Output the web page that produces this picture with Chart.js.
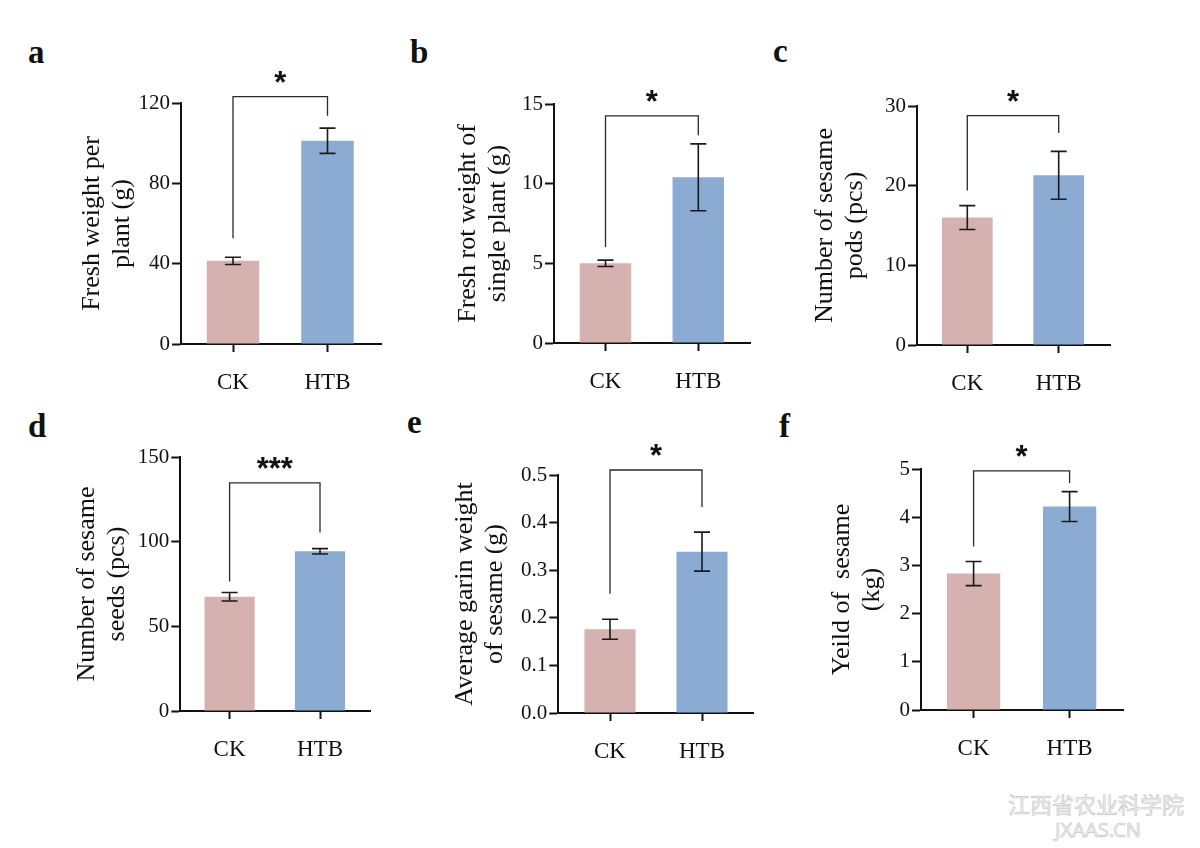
<!DOCTYPE html>
<html>
<head>
<meta charset="utf-8">
<script src="https://cdn.jsdelivr.net/npm/chart.js@4.4.0/dist/chart.umd.min.js"></script>
<style>
body { margin: 0; background: #fff; width: 1200px; height: 848px; position: relative; overflow: hidden; }
canvas { position: absolute; }
.tag { position: absolute; font: bold 33px "Liberation Serif"; line-height: 32px; color: #111; }
.wm { position: absolute; color: #f2f2f2; -webkit-text-stroke: 0.6px #c4c4c4; }
</style>
</head>
<body>
<div class="tag" style="left:28px;top:36px">a</div>
<div class="tag" style="left:410px;top:36px">b</div>
<div class="tag" style="left:773px;top:35px">c</div>
<div class="tag" style="left:28px;top:410px">d</div>
<div class="tag" style="left:407px;top:406px">e</div>
<div class="tag" style="left:779px;top:410px">f</div>
<div class="wm" style="left:1008px;top:792px;font:22px 'Noto Sans CJK SC';line-height:22px">江西省农业科学院</div>
<div class="wm" style="left:1055px;top:820px;font:20px 'Noto Sans';line-height:20px">JXAAS.CN</div>

<script>
// data
const groups = ['CK', 'HTB'];

const freshWeight = [41.4, 101.2];
const freshWeightErr = [1.8, 6.3];
const rotWeight = [5.0, 10.4];
const rotWeightErr = [0.2, 2.1];
const pods = [16.0, 21.3];
const podsErr = [1.5, 3.0];
const seeds = [67.5, 94.3];
const seedsErr = [2.5, 1.6];
const grainWeight = [0.176, 0.339];
const grainWeightErr = [0.021, 0.041];
const yieldKg = [2.83, 4.22];
const yieldKgErr = [0.25, 0.31];

// y tick labels
const ticksA = [0, 40, 80, 120];
const ticksB = [0, 5, 10, 15];
const ticksC = [0, 10, 20, 30];
const ticksD = [0, 50, 100, 150];
const ticksE = [0, 0.1, 0.2, 0.3, 0.4, 0.5];
const ticksF = [0, 1, 2, 3, 4, 5];

// significance brackets: [top, left leg end, right leg end]
const bracketA = [123.2, 52.7, 113.7];
const bracketB = [14.25, 6.02, 13.04];
const bracketC = [28.8, 19.4, 26.6];
const bracketD = [134.7, 76.5, 105.4];
const bracketE = [0.5105, 0.2506, 0.4328];
const bracketF = [4.96, 3.39, 4.71];

const pink = '#d5b1b0';
const blue = '#8babd3';
const serif = 'Liberation Serif';

// error bars
const errPlugin = {
  id: 'errbars',
  afterDatasetsDraw(chart) {
    const ctx = chart.ctx;
    const y = chart.scales.y;
    chart.data.datasets.forEach((ds, di) => {
      chart.getDatasetMeta(di).data.forEach((bar, i) => {
        let hi = y.getPixelForValue(ds.data[i] + ds.errors[i]);
        let lo = y.getPixelForValue(ds.data[i] - ds.errors[i]);
        ctx.save();
        ctx.strokeStyle = '#1a1a1a';
        ctx.lineWidth = 1.6;
        ctx.beginPath();
        ctx.moveTo(bar.x, hi); ctx.lineTo(bar.x, lo);
        ctx.moveTo(bar.x - 8, hi); ctx.lineTo(bar.x + 8, hi);
        ctx.moveTo(bar.x - 8, lo); ctx.lineTo(bar.x + 8, lo);
        ctx.stroke();
        ctx.restore();
      });
    });
  }
};

// bracket + stars
const sigPlugin = {
  id: 'sig',
  afterDraw(chart, args, opts) {
    const ctx = chart.ctx;
    const y = chart.scales.y;
    const bars = chart.getDatasetMeta(0).data;
    let x0 = bars[0].x, x1 = bars[1].x;
    let yt = y.getPixelForValue(opts.levels[0]);
    ctx.save();
    ctx.strokeStyle = '#2a2a2a';
    ctx.lineWidth = 1.3;
    ctx.beginPath();
    ctx.moveTo(x0, y.getPixelForValue(opts.levels[1]));
    ctx.lineTo(x0, yt);
    ctx.lineTo(x1, yt);
    ctx.lineTo(x1, y.getPixelForValue(opts.levels[2]));
    ctx.stroke();
    ctx.fillStyle = '#111';
    ctx.font = 'bold 31px "Liberation Sans"';
    ctx.textAlign = 'center';
    ctx.textBaseline = 'alphabetic';
    ctx.fillText(opts.mark, (x0 + x1) / 2, yt - 4);
    ctx.restore();
  }
};

function makePanel(p, box) {
  const lh = 30;
  let L = box.titleX - lh / 2;
  let T = box.top - 50;
  let W = Math.round(box.right - L + 10);
  let H = Math.round(box.bottom - T + 60);
  let cv = document.createElement('canvas');
  cv.width = W; cv.height = H;
  cv.style.left = L + 'px'; cv.style.top = T + 'px';
  cv.style.width = W + 'px'; cv.style.height = H + 'px';
  document.body.appendChild(cv);

  // where the two bars sit along the x axis (fraction of axis length)
  let len = box.right - box.axisX;
  let d0 = (box.ck - box.axisX) / len, d1 = (box.htb - box.axisX) / len;

  new Chart(cv, {
    type: 'bar',
    data: {
      labels: groups,
      datasets: [{
        data: p.values,
        errors: p.errors,
        backgroundColor: [pink, blue],
        barPercentage: 0.555,
        categoryPercentage: 1
      }]
    },
    options: {
      responsive: false,
      animation: false,
      layout: { padding: { left: 0, top: 50, right: W - (box.right - L), bottom: 0 } },
      plugins: {
        legend: { display: false },
        tooltip: { enabled: false },
        sig: { levels: p.bracket, mark: p.mark }
      },
      scales: {
        x: {
          offset: true,
          afterBuildTicks: s => {
            s._valueRange = 1 / (d1 - d0);
            s._startValue = -d0 * s._valueRange;
          },
          grid: { offset: false, drawOnChartArea: false, tickLength: 8, tickWidth: 2, tickColor: '#111' },
          border: { color: '#111', width: 2 },
          ticks: { color: '#111', font: { family: serif, size: 23 }, padding: 17 },
          afterFit: s => { s.height = 60; }
        },
        y: {
          min: p.ticks[0],
          max: p.ticks[p.ticks.length - 1],
          afterBuildTicks: s => { s.ticks = p.ticks.map(v => ({ value: v })); },
          grid: { drawOnChartArea: false, tickLength: 9, tickWidth: 2, tickColor: '#111' },
          border: { color: '#111', width: 2 },
          ticks: {
            color: '#111',
            font: { family: serif, size: 21 },
            padding: 2,
            callback: v => p.decimals ? v.toFixed(p.decimals) : String(v)
          },
          title: {
            display: true,
            text: p.title,
            color: '#111',
            font: { family: serif, size: 26, lineHeight: 1.15 },
            padding: 0
          },
          afterFit: s => { s.width = box.axisX - L; }
        }
      }
    },
    plugins: [errPlugin, sigPlugin]
  });
}

makePanel({ values: freshWeight, errors: freshWeightErr, ticks: ticksA, bracket: bracketA, mark: '*',
  title: ['Fresh weight per', 'plant (g)'] },
  { axisX: 181, top: 102.7, bottom: 343.3, right: 381, titleX: 92, ck: 233, htb: 327.5 });

makePanel({ values: rotWeight, errors: rotWeightErr, ticks: ticksB, bracket: bracketB, mark: '*',
  title: ['Fresh rot weight of', 'single plant (g)'] },
  { axisX: 554, top: 104, bottom: 343.3, right: 750, titleX: 468, ck: 605.5, htb: 698.3 });

makePanel({ values: pods, errors: podsErr, ticks: ticksC, bracket: bracketC, mark: '*',
  title: ['Number of sesame', 'pods (pcs)'] },
  { axisX: 917, top: 106, bottom: 345.3, right: 1110, titleX: 825, ck: 967.3, htb: 1058.7 });

makePanel({ values: seeds, errors: seedsErr, ticks: ticksD, bracket: bracketD, mark: '***',
  title: ['Number of sesame', 'seeds (pcs)'] },
  { axisX: 180, top: 457.3, bottom: 711, right: 370, titleX: 86.7, ck: 229.3, htb: 319.7 });

makePanel({ values: grainWeight, errors: grainWeightErr, ticks: ticksE, bracket: bracketE, mark: '*', decimals: 1,
  title: ['Average garin weight', 'of sesame (g)'] },
  { axisX: 558.3, top: 475.3, bottom: 713.3, right: 753.3, titleX: 465, ck: 610, htb: 702 });

makePanel({ values: yieldKg, errors: yieldKgErr, ticks: ticksF, bracket: bracketF, mark: '*',
  title: ['Yeild of  sesame', '(kg)'] },
  { axisX: 920.7, top: 469.3, bottom: 710, right: 1123.3, titleX: 841.7, ck: 973.3, htb: 1069.3 });
</script>
</body>
</html>
